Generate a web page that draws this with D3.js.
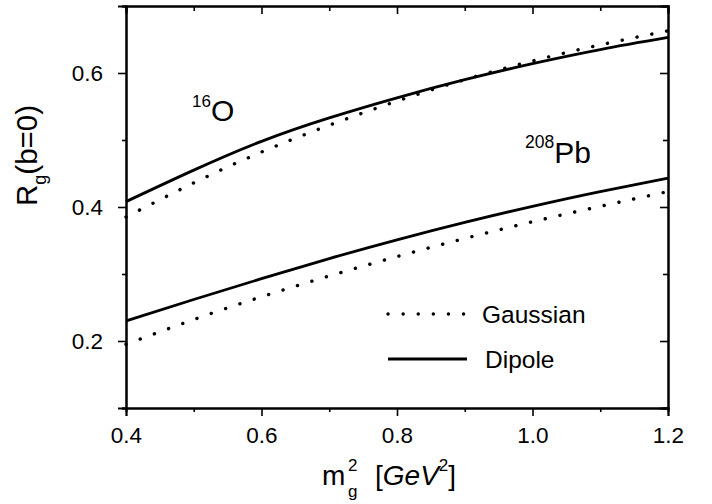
<!DOCTYPE html>
<html><head><meta charset="utf-8">
<script src="https://cdn.jsdelivr.net/npm/d3@7"></script>
<style>
body{margin:0;background:#fff;}
svg{display:block;font-family:"Liberation Sans",Arial,sans-serif;}
</style></head>
<body><svg id="chart" width="712" height="504"></svg>
<script>
const xValues = [0.4, 0.5, 0.6, 0.7, 0.8, 0.9, 1.0, 1.1, 1.2];
const oDipole   = [0.408, 0.455, 0.498, 0.533, 0.563, 0.590, 0.614, 0.635, 0.653];
const oGauss    = [0.385, 0.436, 0.482, 0.522, 0.558, 0.590, 0.618, 0.642, 0.663];
const pbDipole  = [0.230, 0.262, 0.293, 0.323, 0.351, 0.377, 0.401, 0.423, 0.443];
const pbGauss   = [0.195, 0.232, 0.266, 0.297, 0.326, 0.353, 0.378, 0.401, 0.423];
const xTicks = [0.4, 0.6, 0.8, 1.0, 1.2];
const xMinor = [0.5, 0.7, 0.9, 1.1];
const yTicks = [0.2, 0.4, 0.6];
const yMinor = [0.1, 0.3, 0.5, 0.7];
const legendLabels = ["Gaussian", "Dipole"];

const svg = d3.select("#chart");
const L = 126, R = 668, T = 6, B = 408;
const x = d3.scaleLinear().domain([0.4, 1.2]).range([L, R]);
const y = d3.scaleLinear().domain([0.1, 0.7]).range([B, T]);

function axis(gen, tr, vals, size, fmt){
  const g = svg.append("g").attr("transform", tr)
    .call(gen.tickValues(vals).tickSize(size).tickPadding(fmt ? 11 : 0).tickFormat(fmt || (()=>"")));
  g.select(".domain").attr("stroke","#000").attr("stroke-width",2);
  g.selectAll(".tick line").attr("stroke","#000").attr("stroke-width",1.6);
  g.selectAll("text").attr("font-size",22.5).attr("fill","#000").attr("font-family","Liberation Sans, Arial, sans-serif");
  return g;
}
// bottom
axis(d3.axisBottom(x), `translate(0,${B})`, xTicks, 8, d3.format(".1f"));
axis(d3.axisBottom(x), `translate(0,${B})`, xMinor, 4, null);
// top (inward)
axis(d3.axisBottom(x), `translate(0,${T})`, xTicks, 8, null);
axis(d3.axisBottom(x), `translate(0,${T})`, xMinor, 5, null);
// left
const gl = axis(d3.axisLeft(y), `translate(${L},0)`, yTicks, 8, d3.format(".1f"));
gl.selectAll("text").attr("x", -23);
axis(d3.axisLeft(y), `translate(${L},0)`, yMinor, 4, null);
// right (inward)
axis(d3.axisLeft(y), `translate(${R},0)`, yTicks, 8, null);
axis(d3.axisLeft(y), `translate(${R},0)`, yMinor, 5, null);

const line = d3.line().x((d,i)=>x(xValues[i])).y(d=>y(d)).curve(d3.curveNatural);
function drawSeries(vals, dotted){
  svg.append("path").attr("d", line(vals)).attr("fill","none").attr("stroke","#000")
    .attr("stroke-width", dotted ? 3.4 : 2.8)
    .attr("stroke-linecap", dotted ? "round" : "butt")
    .attr("stroke-dasharray", dotted ? "0.1 15" : null);
}
drawSeries(oDipole, false);
drawSeries(oGauss, true);
drawSeries(pbDipole, false);
drawSeries(pbGauss, true);

// legend
const leg = [{dotted:true, y:314, tx:482}, {dotted:false, y:359, tx:485}];
leg.forEach((d,i)=>{
  svg.append("line").attr("x1",388).attr("x2",467).attr("y1",d.y).attr("y2",d.y)
    .attr("stroke","#000").attr("stroke-width", d.dotted ? 3.4 : 2.8)
    .attr("stroke-linecap", d.dotted ? "round" : "butt")
    .attr("stroke-dasharray", d.dotted ? "0.1 15" : null);
  svg.append("text").attr("x", d.tx).attr("y", d.y + 9).attr("font-size", 24.5).text(legendLabels[i]);
});

// nucleus labels
const o = svg.append("text").attr("x",192).attr("y",121).attr("font-size",30);
o.append("tspan").attr("font-size",17).attr("dy",-14).text("16");
o.append("tspan").attr("dy",14).text("O");
const pb = svg.append("text").attr("x",525).attr("y",163).attr("font-size",30);
pb.append("tspan").attr("font-size",17.5).attr("dy",-15).text("208");
pb.append("tspan").attr("dy",15).text("Pb");

// axis titles
const yl = svg.append("text").attr("transform","translate(37,206) rotate(-90)").attr("font-size",29.5);
yl.append("tspan").text("R");
yl.append("tspan").attr("font-size",18).attr("dy",9).text("g");
yl.append("tspan").attr("dy",-9).text("(b=0)");

svg.append("text").attr("x",322).attr("y",485).attr("font-size",28).text("m");
svg.append("text").attr("x",348).attr("y",471).attr("font-size",17).text("2");
svg.append("text").attr("x",348).attr("y",497).attr("font-size",17).text("g");
const xl = svg.append("text").attr("x",375).attr("y",485).attr("font-size",28);
xl.append("tspan").text("[");
xl.append("tspan").attr("font-style","italic").text("GeV");
xl.append("tspan").attr("font-size",17).attr("dy",-14).text("2");
xl.append("tspan").attr("dy",14).text("]");
</script></body></html>
